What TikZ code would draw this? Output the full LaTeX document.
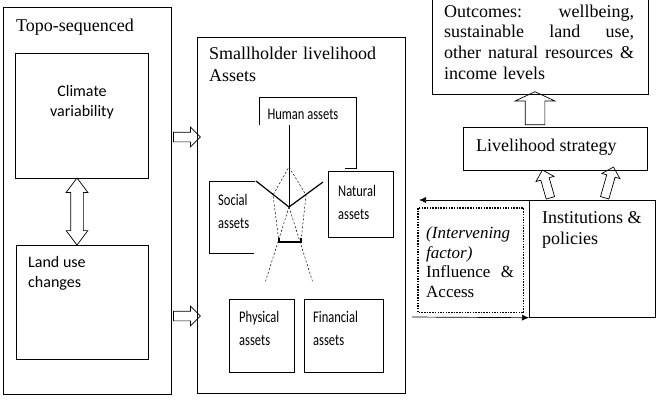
\documentclass[tikz,border=0pt]{standalone}
\usepackage{fontspec}
\usepackage{graphicx}
\setmainfont{Liberation Serif}
\newfontfamily\calibri{Carlito}
\usetikzlibrary{shapes.arrows,arrows.meta}
\newcommand\tallsans[1]{\scalebox{1}[1.3]{#1}}
\tikzset{
  box/.style={draw, line width=0.7pt, inner sep=0pt, anchor=north west},
  serif/.style={font=\fontsize{18}{21}\selectfont, inner sep=0pt, anchor=north west, align=left},
  bigsans/.style={font=\calibri\fontsize{16}{20}\selectfont, inner sep=0pt, align=left},
  sans/.style={font=\calibri\fontsize{12.5}{23}\selectfont, inner sep=0pt, anchor=north west, align=left},
  hollow/.style={single arrow, draw, line width=0.7pt, inner xsep=0pt, single arrow head indent=0pt},
  spoke/.style={line width=1.2pt},
  spider/.style={line width=0.5pt, dash pattern=on 2pt off 2pt},
}
\begin{document}
\begin{tikzpicture}[x=1pt,y=-1pt]
  \useasboundingbox (0,0) rectangle (656,400);
  % left column
  \node[box, minimum width=168pt, minimum height=387pt] (topo) at (3,7) {};
  \node[serif] (topotitle) at (16,18.5) {Topo-sequenced};
  \node[box, minimum width=133pt, minimum height=125pt] (climate) at (15,53) {};
  \node[bigsans, anchor=north, align=center] (climatetext) at (82,85.3) {Climate\\variability};
  \node[box, minimum width=132pt, minimum height=114pt] (landuse) at (16,245) {};
  \node[bigsans, anchor=north west] (landusetext) at (28,256.3) {Land use\\changes};
  \node[double arrow, draw, line width=0.7pt, inner xsep=0pt, inner ysep=6pt,
        double arrow head extend=4.5pt, double arrow tip angle=74, double arrow head indent=0pt,
        minimum height=67pt, rotate=90] (link) at (77,211.5) {};
  \node[hollow, inner ysep=4.5pt, single arrow head extend=5pt, minimum height=27pt] (toassets1) at (184.5,137) {};
  \node[hollow, inner ysep=4.5pt, single arrow head extend=5pt, minimum height=27pt] (toassets2) at (184.5,316) {};

  % assets
  \node[box, minimum width=208pt, minimum height=356pt] (assets) at (197,37) {};
  \node[serif, text width=190pt, font=\fontsize{18}{22}\selectfont] (assetstitle) at (209,46.5) {Smallholder livelihood\\Assets};
  \draw[line width=0.7pt] (259,125) -- (259,97) -- (356,97) -- (356,168) -- (345,168);
  \node[sans, anchor=north] (human) at (303,109) {\tallsans{Human assets}};
  \draw[line width=0.7pt] (255,181) -- (209,181) -- (209,253) -- (254,253);
  \node[sans] (social) at (218,194) {\tallsans{Social}\\\tallsans{assets}};
  \node[box, minimum width=65pt, minimum height=66pt] (natural) at (328,171) {};
  \node[sans] (naturaltext) at (338,185) {\tallsans{Natural}\\\tallsans{assets}};
  \node[box, minimum width=65pt, minimum height=73pt] (physical) at (229,299) {};
  \node[sans] (physicaltext) at (239,311) {\tallsans{Physical}\\\tallsans{assets}};
  \node[box, minimum width=79pt, minimum height=73pt] (financial) at (304,299) {};
  \node[sans] (financialtext) at (313,311) {\tallsans{Financial}\\\tallsans{assets}};

  % spider
  \coordinate (hub) at (289,207);
  \coordinate (top) at (289,167);
  \coordinate (left) at (273,195);
  \coordinate (right) at (306,195);
  \coordinate (bl) at (279,242);
  \coordinate (br) at (301,242);
  \draw[line width=0.5pt] (289,125) -- (hub);
  \draw[spoke] (256,181) -- (hub) -- (323,182);
  \draw[spider] (bl) -- (left) -- (top) -- (right) -- (br);
  \draw[spider] (hub) -- (265,283);
  \draw[spider] (hub) -- (313,283);
  \draw[spoke] (279,238) -- (bl) -- (br) -- (301,238);

  % right column
  \node[box, minimum width=216pt, minimum height=98pt] (outcomes) at (432,-4) {};
  \node[serif, text width=190pt, font=\fontsize{18}{20.7}\selectfont] (outcomestext) at (444,4.5)
    {Outcomes:\hfill wellbeing,\\ sustainable\hfill land\hfill use,\\ other\hfill natural\hfill resources\hfill\&\\ income levels};
  \node[box, minimum width=184pt, minimum height=43pt] (strategy) at (463,127) {};
  \node[serif] (strategytext) at (476,138.5) {Livelihood strategy};
  \node[hollow, inner ysep=9.5pt, single arrow head extend=10pt, single arrow tip angle=130,
        minimum height=33pt, rotate=90] (tooutcomes) at (535,110.5) {};
  \node[box, minimum width=126pt, minimum height=117pt] (inst) at (529,200) {};
  \node[serif] (insttext) at (542,211.5) {Institutions \&\\policies};
  \node[hollow, inner ysep=4pt, single arrow head extend=5pt, minimum height=29pt, rotate=106] (tostrategy1) at (547,186) {};
  \node[hollow, inner ysep=4pt, single arrow head extend=5pt, minimum height=32pt, rotate=74] (tostrategy2) at (608.5,184.5) {};

  % intervening factor
  \node[box, draw=none, minimum width=105pt, minimum height=104pt] (factor) at (418,208) {};
  \draw[line width=1.5pt, dash pattern=on 1.5pt off 1.2pt] (factor.north west) rectangle (factor.south east);
  \node[serif, text width=88pt, font=\fontsize{17}{19.5}\selectfont] (factortext) at (426,226.5)
    {\textit{(Intervening}\\ \textit{factor)}\\ Influence\hfill\&\\ Access};
  \coordinate (outend) at (419,200);
  \coordinate (instart) at (412,317);
  \draw[line width=0.7pt, -{Latex[length=7pt,width=6pt]}] (inst.north west) -- (outend);
  \draw[line width=0.7pt, -{Latex[length=7pt,width=6pt]}] (instart) -- (inst.south west);
\end{tikzpicture}
\end{document}
